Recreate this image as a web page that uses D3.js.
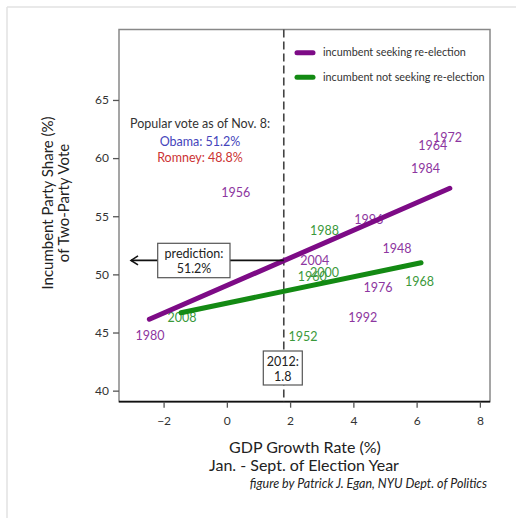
<!DOCTYPE html>
<html><head><meta charset="utf-8">
<script src="https://cdn.jsdelivr.net/npm/d3@7"></script>
<style>body{margin:0;background:#fff}svg{display:block}text{font-family:Lato,"Open Sans",sans-serif}</style>
</head><body><svg id="c" width="516" height="518"></svg>
<script>
// ---- data ----
const years = [1972,1964,1984,1956,1996,1988,1948,2004,2000,1960,1976,1968,1992,2008,1980,1952];
const gdp   = [6.98,6.51,6.28,0.28,4.49,3.09,5.38,2.78,3.09,2.70,4.78,6.09,4.30,-1.42,-2.43,2.41];
const vote  = [61.8,61.1,59.06,57.0,54.68,53.76,52.24,51.15,50.18,49.8,48.9,49.37,46.28,46.28,44.7,44.65];
const seeking = [1,1,1,1,1,0,1,1,0,0,1,0,1,0,1,0]; // 1 = incumbent seeking re-election
const fitSeeking    = [[-2.45,46.14],[7.05,57.4]];
const fitNotSeeking = [[-1.45,46.7],[6.14,51.0]];
const xTicks = [-2,0,2,4,6,8];
const yTicks = [40,45,50,55,60,65];
const gdp2012 = 1.8, prediction = 51.2, arrowTo = -3.03;
const legendLabels = ["incumbent seeking re-election","incumbent not seeking re-election"];

const svg = d3.select("#c");
const L=119,R=490,T=29.5,B=401.7;
const x = d3.scaleLinear().domain([-3.41,8.32]).range([L,R]);
const y = d3.scaleLinear().domain([39.05,71.06]).range([B,T]);
const purpleLine="#7d0b86", greenLine="#138a13", purpleText="#8d36a0", greenText="#3b993b";

// outer frame
svg.append("line").attr("x1",7).attr("x2",516).attr("y1",7).attr("y2",7).attr("stroke","#e2e2e2").attr("stroke-width",1.5);
svg.append("line").attr("x1",7).attr("x2",7).attr("y1",7).attr("y2",518).attr("stroke","#e2e2e2").attr("stroke-width",1.5);

// plot box
svg.append("rect").attr("x",L).attr("y",T).attr("width",R-L).attr("height",B-T).attr("fill","none").attr("stroke","#888").attr("stroke-width",1.5);
svg.append("line").attr("x1",L).attr("x2",R).attr("y1",B).attr("y2",B).attr("stroke","#111").attr("stroke-width",1.8);

// axes
const xa = svg.append("g").attr("transform",`translate(0,${B})`).call(d3.axisBottom(x).tickValues(xTicks).tickSize(6).tickPadding(9).tickFormat(d3.format("d")));
const ya = svg.append("g").attr("transform",`translate(${L},0)`).call(d3.axisLeft(y).tickValues(yTicks).tickSize(6).tickPadding(4).tickFormat(d3.format("d")));
[xa,ya].forEach(g=>{g.select(".domain").remove();g.selectAll(".tick line").attr("stroke","#555").attr("stroke-width",1.3);
  g.selectAll(".tick text").attr("font-size",12).attr("fill","#333").attr("font-family","Lato,sans-serif");});

// dashed 2012 line
svg.append("line").attr("x1",x(gdp2012)).attr("x2",x(gdp2012)).attr("y1",T).attr("y2",B).attr("stroke","#444").attr("stroke-width",1.6).attr("stroke-dasharray","8,4");

// labels
svg.append("g").selectAll("text").data(years).join("text")
  .attr("x",(d,i)=>x(gdp[i])).attr("y",(d,i)=>y(vote[i])).attr("dy","0.35em").attr("text-anchor","middle")
  .attr("font-size",12.5).attr("fill",(d,i)=>seeking[i]?purpleText:greenText).text(d=>d);

// fit lines
const line = d3.line().x(d=>x(d[0])).y(d=>y(d[1]));
svg.append("path").attr("d",line(fitNotSeeking)).attr("stroke",greenLine).attr("stroke-width",5).attr("fill","none").attr("stroke-linecap","round");
svg.append("path").attr("d",line(fitSeeking)).attr("stroke",purpleLine).attr("stroke-width",5).attr("fill","none").attr("stroke-linecap","round");

// prediction arrow
const ay = y(prediction);
svg.append("line").attr("x1",x(gdp2012)).attr("x2",x(arrowTo)).attr("y1",ay).attr("y2",ay).attr("stroke","#111").attr("stroke-width",1.6);
svg.append("path").attr("d",`M${x(arrowTo)+7},${ay-4.5}L${x(arrowTo)},${ay}L${x(arrowTo)+7},${ay+4.5}`).attr("stroke","#111").attr("stroke-width",1.6).attr("fill","none");
svg.append("rect").attr("x",157.7).attr("y",243.3).attr("width",72.3).attr("height",34.4).attr("fill","#fff").attr("stroke","#555").attr("stroke-width",1.2);
svg.append("text").attr("x",194).attr("y",258).attr("text-anchor","middle").attr("font-size",12.5).attr("fill","#222").text("prediction:");
svg.append("text").attr("x",194).attr("y",273).attr("text-anchor","middle").attr("font-size",12.5).attr("fill","#222").text(prediction.toFixed(1)+"%");

// 2012 box
svg.append("rect").attr("x",263.3).attr("y",351).attr("width",39).attr("height",34).attr("fill","#fff").attr("stroke","#555").attr("stroke-width",1.2);
svg.append("text").attr("x",282.8).attr("y",366).attr("text-anchor","middle").attr("font-size",12.5).attr("fill","#222").text("2012:");
svg.append("text").attr("x",282.8).attr("y",380.5).attr("text-anchor","middle").attr("font-size",12.5).attr("fill","#222").text(gdp2012.toFixed(1));

// popular vote annotation
svg.append("text").attr("x",200).attr("y",128).attr("text-anchor","middle").attr("font-size",12.5).attr("fill","#333").text("Popular vote as of Nov. 8:");
svg.append("text").attr("x",200).attr("y",145.5).attr("text-anchor","middle").attr("font-size",12.5).attr("fill","#4444bb").text("Obama: 51.2%");
svg.append("text").attr("x",200).attr("y",162).attr("text-anchor","middle").attr("font-size",12.5).attr("fill","#cc3333").text("Romney: 48.8%");

// legend
[[purpleLine,52.7],[greenLine,77.3]].forEach(([c,yy],i)=>{
  svg.append("line").attr("x1",297).attr("x2",313).attr("y1",yy).attr("y2",yy).attr("stroke",c).attr("stroke-width",5).attr("stroke-linecap","round");
  svg.append("text").attr("x",323).attr("y",yy).attr("dy","0.35em").attr("font-size",10.8).attr("fill","#333").text(legendLabels[i]);
});

// axis titles
svg.append("text").attr("x",305).attr("y",453).attr("text-anchor","middle").attr("font-size",16).attr("fill","#222").text("GDP Growth Rate (%)");
svg.append("text").attr("x",304).attr("y",471).attr("text-anchor","middle").attr("font-size",16).attr("fill","#222").text("Jan. - Sept. of Election Year");
svg.append("text").attr("x",487).attr("y",488).attr("text-anchor","end").attr("font-size",12.5).attr("font-style","italic").attr("fill","#222").text("figure by Patrick J. Egan, NYU Dept. of Politics");
const yt = svg.append("text").attr("transform","translate(53,203) rotate(-90)").attr("text-anchor","middle").attr("font-size",15).attr("fill","#222");
yt.append("tspan").attr("x",0).attr("y",0).text("Incumbent Party Share (%)");
yt.append("tspan").attr("x",0).attr("y",15.5).text("of Two-Party Vote");
</script></body></html>
